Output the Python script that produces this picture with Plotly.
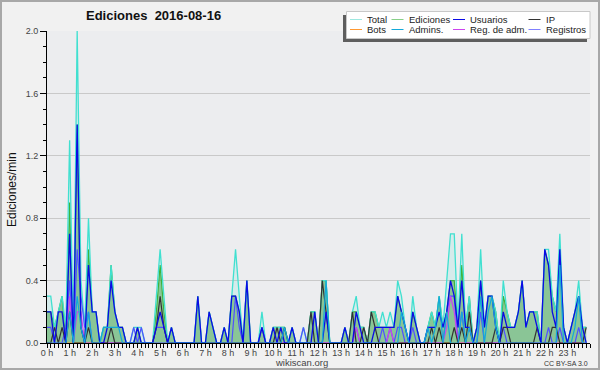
import plotly.graph_objects as go

# ---------------- data (10-minute bins, edits per minute) ----------------
hour_labels = [f"{h} h" for h in range(24)]
hour_ticks = list(range(24))
y_ticks = [0.0, 0.4, 0.8, 1.2, 1.6, 2.0]

total = [
    0.3, 0.3, 0.1, 0.2, 0.3, 0.1,
    1.3, 0.0, 2.0, 0.4, 0.1, 0.8,
    0.2, 0.2, 0.0, 0.1, 0.1, 0.5,
    0.2, 0.1, 0.1, 0.0, 0.0, 0.1,
    0.1, 0.1, 0.0, 0.0, 0.0, 0.3,
    0.6, 0.3, 0.0, 0.1, 0.0, 0.0,
    0.0, 0.0, 0.0, 0.0, 0.3, 0.0,
    0.0, 0.2, 0.1, 0.0, 0.0, 0.1,
    0.0, 0.3, 0.6, 0.3, 0.0, 0.4,
    0.0, 0.0, 0.0, 0.2, 0.0, 0.0,
    0.1, 0.1, 0.1, 0.1, 0.0, 0.1,
    0.0, 0.0, 0.1, 0.0, 0.2, 0.2,
    0.0, 0.4, 0.4, 0.0, 0.0, 0.0,
    0.0, 0.1, 0.0, 0.2, 0.3, 0.1,
    0.1, 0.0, 0.2, 0.2, 0.1, 0.2,
    0.1, 0.2, 0.1, 0.4, 0.3, 0.1,
    0.0, 0.3, 0.1, 0.0, 0.0, 0.1,
    0.2, 0.1, 0.3, 0.1, 0.4, 0.7,
    0.7, 0.1, 0.7, 0.1, 0.3, 0.0,
    0.1, 0.6, 0.1, 0.3, 0.3, 0.2,
    0.0, 0.4, 0.2, 0.1, 0.1, 0.2,
    0.4, 0.1, 0.2, 0.2, 0.2, 0.0,
    0.6, 0.6, 0.3, 0.2, 0.7, 0.1,
    0.0, 0.1, 0.2, 0.4, 0.1, 0.1,
]
ediciones = [
    0.2, 0.2, 0.1, 0.2, 0.3, 0.0,
    0.9, 0.0, 1.4, 0.1, 0.0, 0.6,
    0.2, 0.2, 0.0, 0.1, 0.1, 0.5,
    0.2, 0.1, 0.1, 0.0, 0.0, 0.0,
    0.1, 0.0, 0.0, 0.0, 0.0, 0.2,
    0.5, 0.2, 0.0, 0.1, 0.0, 0.0,
    0.0, 0.0, 0.0, 0.0, 0.3, 0.0,
    0.0, 0.2, 0.1, 0.0, 0.0, 0.1,
    0.0, 0.3, 0.3, 0.2, 0.0, 0.4,
    0.0, 0.0, 0.0, 0.1, 0.0, 0.0,
    0.1, 0.1, 0.1, 0.1, 0.0, 0.1,
    0.0, 0.0, 0.0, 0.0, 0.2, 0.2,
    0.0, 0.4, 0.4, 0.0, 0.0, 0.0,
    0.0, 0.1, 0.0, 0.2, 0.2, 0.1,
    0.1, 0.0, 0.2, 0.2, 0.1, 0.1,
    0.1, 0.1, 0.1, 0.3, 0.2, 0.1,
    0.0, 0.2, 0.1, 0.0, 0.0, 0.1,
    0.2, 0.1, 0.3, 0.1, 0.2, 0.4,
    0.4, 0.1, 0.5, 0.1, 0.3, 0.0,
    0.1, 0.4, 0.1, 0.3, 0.3, 0.2,
    0.0, 0.3, 0.2, 0.1, 0.1, 0.2,
    0.4, 0.1, 0.2, 0.2, 0.2, 0.0,
    0.6, 0.5, 0.3, 0.2, 0.6, 0.1,
    0.0, 0.1, 0.2, 0.3, 0.1, 0.1,
]
usuarios = [
    0.2, 0.2, 0.0, 0.2, 0.2, 0.0,
    0.7, 0.0, 1.4, 0.1, 0.0, 0.5,
    0.2, 0.2, 0.0, 0.0, 0.1, 0.4,
    0.2, 0.1, 0.1, 0.0, 0.0, 0.0,
    0.1, 0.0, 0.0, 0.0, 0.0, 0.1,
    0.2, 0.1, 0.0, 0.1, 0.0, 0.0,
    0.0, 0.0, 0.0, 0.0, 0.3, 0.0,
    0.0, 0.2, 0.1, 0.0, 0.0, 0.1,
    0.0, 0.3, 0.3, 0.2, 0.0, 0.4,
    0.0, 0.0, 0.0, 0.1, 0.0, 0.0,
    0.1, 0.0, 0.1, 0.0, 0.0, 0.1,
    0.0, 0.0, 0.0, 0.0, 0.0, 0.2,
    0.0, 0.0, 0.2, 0.0, 0.0, 0.0,
    0.0, 0.1, 0.0, 0.0, 0.2, 0.1,
    0.0, 0.0, 0.0, 0.1, 0.1, 0.1,
    0.1, 0.1, 0.1, 0.3, 0.2, 0.1,
    0.0, 0.2, 0.1, 0.0, 0.0, 0.1,
    0.1, 0.1, 0.2, 0.1, 0.2, 0.4,
    0.3, 0.1, 0.4, 0.1, 0.1, 0.0,
    0.1, 0.4, 0.1, 0.3, 0.3, 0.1,
    0.0, 0.2, 0.1, 0.1, 0.1, 0.2,
    0.4, 0.1, 0.2, 0.2, 0.1, 0.0,
    0.6, 0.5, 0.2, 0.1, 0.6, 0.1,
    0.0, 0.1, 0.2, 0.3, 0.1, 0.0,
]
ip = [
    0.0, 0.0, 0.1, 0.0, 0.1, 0.0,
    0.2, 0.0, 0.0, 0.0, 0.0, 0.1,
    0.0, 0.0, 0.0, 0.0, 0.0, 0.1,
    0.0, 0.0, 0.0, 0.0, 0.0, 0.0,
    0.0, 0.0, 0.0, 0.0, 0.0, 0.1,
    0.3, 0.1, 0.0, 0.0, 0.0, 0.0,
    0.0, 0.0, 0.0, 0.0, 0.0, 0.0,
    0.0, 0.0, 0.0, 0.0, 0.0, 0.0,
    0.0, 0.0, 0.0, 0.0, 0.0, 0.0,
    0.0, 0.0, 0.0, 0.0, 0.0, 0.0,
    0.0, 0.1, 0.0, 0.1, 0.0, 0.0,
    0.0, 0.0, 0.0, 0.0, 0.2, 0.0,
    0.0, 0.4, 0.2, 0.0, 0.0, 0.0,
    0.0, 0.0, 0.0, 0.2, 0.0, 0.0,
    0.1, 0.0, 0.2, 0.1, 0.0, 0.0,
    0.0, 0.0, 0.0, 0.0, 0.0, 0.0,
    0.0, 0.0, 0.0, 0.0, 0.0, 0.0,
    0.1, 0.0, 0.1, 0.0, 0.0, 0.0,
    0.1, 0.0, 0.1, 0.0, 0.2, 0.0,
    0.0, 0.0, 0.0, 0.0, 0.0, 0.1,
    0.0, 0.1, 0.1, 0.0, 0.0, 0.0,
    0.0, 0.0, 0.0, 0.0, 0.1, 0.0,
    0.0, 0.0, 0.1, 0.1, 0.0, 0.0,
    0.0, 0.0, 0.0, 0.0, 0.0, 0.1,
]
bots = [0.0] * 144
admins = [
    0.0, 0.0, 0.0, 0.0, 0.0, 0.0,
    0.2, 0.0, 0.3, 0.1, 0.0, 0.2,
    0.0, 0.0, 0.0, 0.1, 0.1, 0.1,
    0.1, 0.1, 0.0, 0.0, 0.0, 0.0,
    0.0, 0.0, 0.0, 0.0, 0.0, 0.0,
    0.0, 0.0, 0.0, 0.0, 0.0, 0.0,
    0.0, 0.0, 0.0, 0.0, 0.0, 0.0,
    0.0, 0.0, 0.0, 0.0, 0.0, 0.0,
    0.0, 0.0, 0.0, 0.0, 0.0, 0.0,
    0.0, 0.0, 0.0, 0.0, 0.0, 0.0,
    0.0, 0.0, 0.0, 0.1, 0.0, 0.0,
    0.0, 0.0, 0.0, 0.0, 0.0, 0.0,
    0.0, 0.0, 0.4, 0.0, 0.0, 0.0,
    0.0, 0.0, 0.0, 0.0, 0.0, 0.0,
    0.0, 0.0, 0.0, 0.0, 0.0, 0.0,
    0.0, 0.0, 0.0, 0.0, 0.2, 0.1,
    0.0, 0.0, 0.0, 0.0, 0.0, 0.1,
    0.0, 0.1, 0.3, 0.0, 0.2, 0.0,
    0.0, 0.0, 0.2, 0.0, 0.1, 0.0,
    0.0, 0.3, 0.0, 0.2, 0.3, 0.1,
    0.0, 0.0, 0.0, 0.0, 0.0, 0.0,
    0.0, 0.0, 0.0, 0.0, 0.0, 0.0,
    0.0, 0.0, 0.0, 0.0, 0.5, 0.0,
    0.0, 0.0, 0.1, 0.3, 0.0, 0.0,
]
reg_adm = [
    0.0, 0.0, 0.0, 0.0, 0.0, 0.0,
    0.3, 0.0, 0.2, 0.2, 0.0, 0.0,
] + [0.0] * 66 + [
    0.0, 0.0, 0.0, 0.0, 0.1, 0.0,
    0.0, 0.0, 0.0, 0.0, 0.0, 0.0,
    0.0, 0.1, 0.0, 0.0, 0.0, 0.0,
    0.0, 0.0, 0.0, 0.0, 0.0, 0.0,
    0.0, 0.0, 0.0, 0.0, 0.1, 0.3,
    0.2, 0.0, 0.0, 0.0, 0.0, 0.0,
] + [0.0] * 30
registros = [
    0.1, 0.1, 0.0, 0.0, 0.0, 0.1,
    0.4, 0.0, 0.6, 0.3, 0.1, 0.2,
    0.0, 0.0, 0.0, 0.0, 0.0, 0.0,
    0.0, 0.0, 0.0, 0.0, 0.0, 0.1,
    0.0, 0.1, 0.0, 0.0, 0.0, 0.1,
    0.1, 0.1, 0.0, 0.0, 0.0, 0.0,
    0.0, 0.0, 0.0, 0.0, 0.0, 0.0,
    0.0, 0.0, 0.0, 0.0, 0.0, 0.0,
    0.0, 0.0, 0.3, 0.1, 0.0, 0.0,
    0.0, 0.0, 0.0, 0.1, 0.0, 0.0,
    0.0, 0.0, 0.0, 0.0, 0.0, 0.0,
    0.0, 0.0, 0.1, 0.0, 0.0, 0.0,
    0.0, 0.0, 0.0, 0.0, 0.0, 0.0,
    0.0, 0.0, 0.0, 0.0, 0.1, 0.0,
    0.0, 0.0, 0.0, 0.0, 0.0, 0.1,
    0.0, 0.1, 0.0, 0.1, 0.1, 0.0,
    0.0, 0.1, 0.0, 0.0, 0.0, 0.0,
    0.0, 0.0, 0.0, 0.0, 0.2, 0.3,
    0.3, 0.0, 0.2, 0.0, 0.0, 0.0,
    0.0, 0.2, 0.0, 0.0, 0.0, 0.0,
    0.0, 0.1, 0.0, 0.0, 0.0, 0.0,
    0.0, 0.0, 0.0, 0.0, 0.0, 0.0,
    0.0, 0.1, 0.0, 0.0, 0.1, 0.0,
    0.0, 0.0, 0.0, 0.1, 0.0, 0.0,
]
bin_minutes = list(range(0, 1440, 10))
hours = [m / 60 for m in bin_minutes]

# ---------------- styling ----------------
C_TOTAL = "#40E0D0"
C_EDIC = "#3DB33D"
C_USU = "#0A0AE6"
C_IP = "#333333"
C_BOTS = "#FF9933"
C_ADM = "#13A9D9"
C_REGADM = "#CC44EE"
C_REG = "#5050FF"
FONT = "Liberation Sans"

L, R, T, B = 47, 10, 31, 27
W, H = 600 - L - R, 370 - T - B


def px(x):
    return (x - L) / W


def py(y):
    return (T + H - y) / H


fig = go.Figure()
fig.add_trace(go.Scatter(x=hours, y=total, mode="lines", line=dict(width=0),
                         fill="tozeroy", fillcolor="rgba(64,224,208,0.13)",
                         hoverinfo="skip", showlegend=False))
fig.add_trace(go.Scatter(x=hours, y=ediciones, mode="lines", name="Ediciones",
                         line=dict(color=C_EDIC, width=1.2),
                         fill="tozeroy", fillcolor="rgba(51,153,51,0.46)"))
fig.add_trace(go.Scatter(x=hours, y=total, mode="lines", name="Total",
                         line=dict(color=C_TOTAL, width=1.3)))
fig.add_trace(go.Scatter(x=hours, y=bots, mode="lines", name="Bots",
                         line=dict(color=C_BOTS, width=1.2)))
fig.add_trace(go.Scatter(x=hours, y=registros, mode="lines", name="Registros",
                         line=dict(color=C_REG, width=1.2)))
fig.add_trace(go.Scatter(x=hours, y=reg_adm, mode="lines", name="Reg. de adm.",
                         line=dict(color=C_REGADM, width=1.2)))
fig.add_trace(go.Scatter(x=hours, y=ip, mode="lines", name="IP",
                         line=dict(color=C_IP, width=1.2)))
fig.add_trace(go.Scatter(x=hours, y=usuarios, mode="lines", name="Usuarios",
                         line=dict(color=C_USU, width=1.3)))
fig.add_trace(go.Scatter(x=hours, y=admins, mode="lines", name="Admins.",
                         line=dict(color=C_ADM, width=1.2)))

shapes = []
annotations = []

# outer frame
shapes.append(dict(type="rect", xref="paper", yref="paper",
                   x0=px(1), x1=px(599), y0=py(369), y1=py(1),
                   line=dict(color="#A8A8A8", width=2), fillcolor="rgba(0,0,0,0)",
                   layer="above"))

# legend box with shadow
shapes.append(dict(type="rect", xref="paper", yref="paper",
                   x0=px(343), x1=px(587), y0=py(42), y1=py(15),
                   line=dict(width=0), fillcolor="#5E5E5E", layer="above"))
shapes.append(dict(type="rect", xref="paper", yref="paper",
                   x0=px(346.5), x1=px(590), y0=py(38.5), y1=py(11.5),
                   line=dict(color="#C8C8C8", width=1), fillcolor="#FFFFFF",
                   layer="above"))

legend_names = ["Total", "Ediciones", "Usuarios", "IP",
                "Bots", "Admins.", "Reg. de adm.", "Registros"]
legend_colors = ["#9EE8E0", "#88D088", C_USU, C_IP,
                 C_BOTS, C_ADM, C_REGADM, "#8080FF"]
col_x = [350, 391.5, 453, 528.5]
row_y = [19.5, 29.5]
for k, (name, col) in enumerate(zip(legend_names, legend_colors)):
    cx = col_x[k % 4]
    cy = row_y[k // 4]
    shapes.append(dict(type="line", xref="paper", yref="paper",
                       x0=px(cx), x1=px(cx + 12), y0=py(cy), y1=py(cy),
                       line=dict(color=col, width=1), layer="above"))
    annotations.append(dict(xref="paper", yref="paper", x=px(cx + 15), y=py(cy),
                            xanchor="left", yanchor="middle", text=name,
                            showarrow=False,
                            font=dict(family=FONT, size=9.5, color="#222222")))

# title, axis title, footer texts
annotations.append(dict(xref="paper", yref="paper", x=px(153), y=py(16),
                        xanchor="center", yanchor="middle",
                        text="<b>Ediciones  2016-08-16</b>", showarrow=False,
                        font=dict(family=FONT, size=13, color="#111111")))
annotations.append(dict(xref="paper", yref="paper", x=px(12), y=py(190),
                        xanchor="center", yanchor="middle", textangle=-90,
                        text="Ediciones/min", showarrow=False,
                        font=dict(family=FONT, size=12, color="#111111")))
annotations.append(dict(xref="paper", yref="paper", x=px(301), y=py(362),
                        xanchor="center", yanchor="middle",
                        text="wikiscan.org", showarrow=False,
                        font=dict(family=FONT, size=9.5, color="#444444")))
annotations.append(dict(xref="paper", yref="paper", x=px(590), y=py(363),
                        xanchor="right", yanchor="middle",
                        text="CC BY-SA 3.0", showarrow=False,
                        font=dict(family=FONT, size=7, color="#333333")))

fig.update_layout(
    width=600, height=370,
    margin=dict(l=L, r=R, t=T, b=B, pad=0),
    paper_bgcolor="#F1F1F1",
    plot_bgcolor="#ECEDEF",
    showlegend=False,
    shapes=shapes,
    annotations=annotations,
    font=dict(family=FONT, size=9, color="#444444"),
    xaxis=dict(
        range=[0, 24], tickmode="array", tickvals=hour_ticks, ticktext=hour_labels,
        showgrid=False, zeroline=False, showline=True, linecolor="black",
        linewidth=1, ticks="outside", ticklen=4, tickcolor="black",
        tickfont=dict(family=FONT, size=9, color="#444444"),
        ticklabelstandoff=-3,
        minor=dict(tickmode="linear", tick0=0, dtick=1 / 6, ticks="outside",
                   ticklen=4, tickcolor="black", showgrid=False),
        fixedrange=True,
    ),
    yaxis=dict(
        range=[0, 2.0], tickmode="array", tickvals=y_ticks,
        ticktext=[f"{v:.1f}" for v in y_ticks],
        showgrid=True, gridcolor="#C9C9C9", gridwidth=1,
        zeroline=False, showline=True, linecolor="black", linewidth=1,
        ticks="outside", ticklen=6, tickcolor="black",
        tickfont=dict(family=FONT, size=9, color="#444444"),
        minor=dict(tickmode="linear", tick0=0, dtick=0.1, ticks="outside",
                   ticklen=3, tickcolor="black", showgrid=False),
        fixedrange=True,
    ),
)

fig.write_html(
    "out.html",
    config={"displayModeBar": False},
    post_script="document.body.style.margin='0';document.body.style.padding='0';"
                "document.documentElement.style.overflow='hidden';",
)
